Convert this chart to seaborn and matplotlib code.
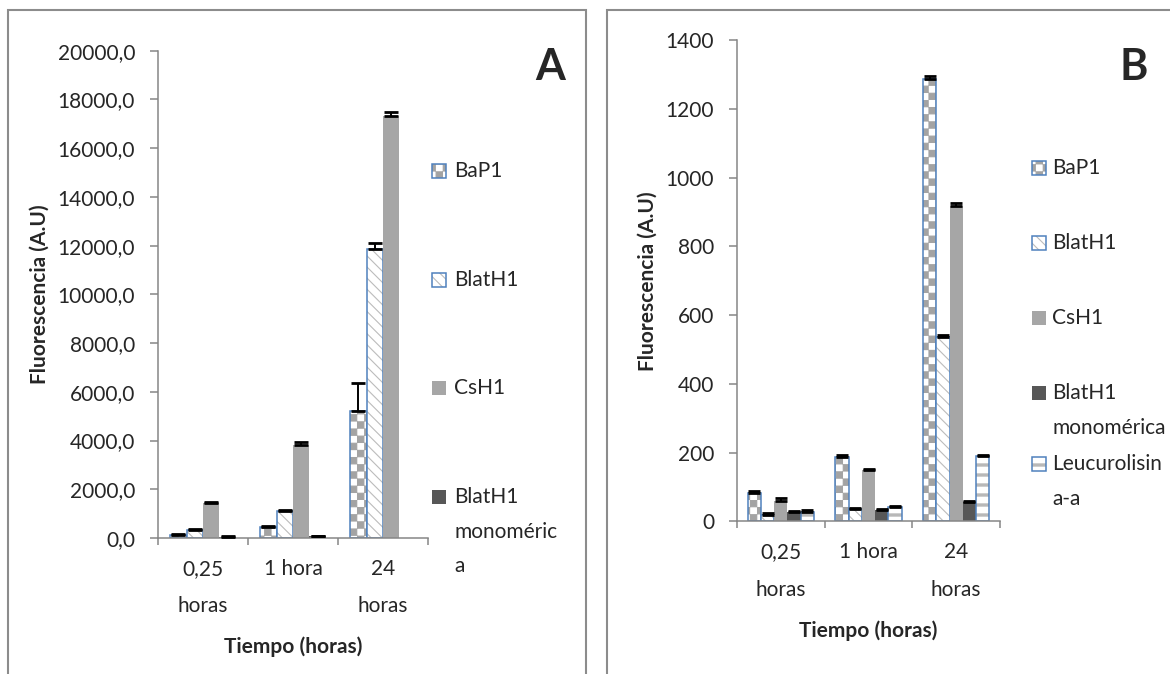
import numpy as np
import pandas as pd
import matplotlib
matplotlib.use("Agg")
import matplotlib.pyplot as plt
import matplotlib.colors as mcolors
import matplotlib.hatch as mhatch
from matplotlib.path import Path
from matplotlib.patches import Rectangle
from matplotlib.ticker import FuncFormatter
import seaborn as sns

# ---------------- data ----------------
times = ["0,25\nhoras", "1 hora", "24\nhoras"]

series_a = ["BaP1", "BlatH1", "CsH1", "BlatH1 monomérica"]
legend_a = ["BaP1", "BlatH1", "CsH1", "BlatH1\nmonoméric\na"]
bap1_a = [110, 450, 5200]
blath1_a = [310, 1090, 11850]
csh1_a = [1430, 3830, 17300]
mono_a = [40, 70, np.nan]
bap1_a_err = [40, 50, 1150]
blath1_a_err = [40, 40, 250]
csh1_a_err = [60, 100, 200]
mono_a_err = [30, 30, np.nan]

series_b = ["BaP1", "BlatH1", "CsH1", "BlatH1 monomérica", "Leucurolisina-a"]
legend_b = ["BaP1", "BlatH1", "CsH1", "BlatH1\nmonomérica", "Leucurolisin\na-a"]
bap1_b = [82, 188, 1288]
blath1_b = [18, 35, 537]
csh1_b = [58, 148, 918]
mono_b = [27, 32, 57]
leuco_b = [28, 41, 190]
bap1_b_err = [6, 6, 8]
blath1_b_err = [5, 3, 6]
csh1_b_err = [10, 3, 7]
mono_b_err = [2, 3, 3]
leuco_b_err = [4, 3, 3]

yticks_a = list(range(0, 20001, 2000))
yticks_b = list(range(0, 1401, 200))

# ---------------- style ----------------
sns.set_style("white")
plt.rcParams["font.family"] = ["Lato", "DejaVu Sans"]
plt.rcParams["hatch.linewidth"] = 0.8


# custom fill patterns (checkerboard and horizontal bands) for the hatches
class _Checker(mhatch.HatchPatternBase):
    def __init__(self, hatch, density):
        self.cells = 14 if "*" in hatch else 0
        self.num_vertices = (self.cells * self.cells // 2) * 5

    def set_vertices_and_codes(self, vertices, codes):
        n = self.cells
        s = 1.0 / n
        d = 0.004
        verts = []
        for i in range(n):
            for j in range(n):
                if (i + j) % 2 == 0:
                    x0, y0 = i * s + d, j * s + d
                    x1, y1 = (i + 1) * s - d, (j + 1) * s - d
                    verts += [(x0, y0), (x1, y0), (x1, y1), (x0, y1), (x0, y0)]
        vertices[:] = np.array(verts)
        codes[:] = np.tile([Path.MOVETO, Path.LINETO, Path.LINETO,
                            Path.LINETO, Path.CLOSEPOLY], len(verts) // 5)


class _Bands(mhatch.HatchPatternBase):
    def __init__(self, hatch, density):
        self.n = 10 if "." in hatch else 0
        self.num_vertices = self.n * 5

    def set_vertices_and_codes(self, vertices, codes):
        n = self.n
        s = 1.0 / n
        t = 0.022
        verts = []
        for k in range(n):
            y0 = k * s + (s - t) / 2
            y1 = y0 + t
            verts += [(0.0, y0), (1.0, y0), (1.0, y1), (0.0, y1), (0.0, y0)]
        vertices[:] = np.array(verts)
        codes[:] = np.tile([Path.MOVETO, Path.LINETO, Path.LINETO,
                            Path.LINETO, Path.CLOSEPOLY], n)


try:
    i1 = mhatch._hatch_types.index(mhatch.Stars)
    mhatch._hatch_types[i1] = _Checker
    i2 = mhatch._hatch_types.index(mhatch.SmallFilledCircles)
    mhatch._hatch_types[i2] = _Bands
    CHECK, BANDS = "*", "."
except Exception:
    CHECK, BANDS = "++", "--"

BLUE = "#4F81BD"
styles = {
    "BaP1": dict(face="white", hatch=CHECK, hc="#A3A3A3", edge=BLUE),
    "BlatH1": dict(face="white", hatch="\\\\\\", hc="#BCBCBC", edge=BLUE),
    "CsH1": dict(face="#A6A6A6", hatch=None, hc=None, edge="none"),
    "BlatH1 monomérica": dict(face="#575757", hatch=None, hc=None, edge="none"),
    "Leucurolisina-a": dict(face="white", hatch=BANDS, hc="#B8B8B8", edge=BLUE),
}


def set_hc(p, c):
    if hasattr(p, "set_hatchcolor"):
        p.set_hatchcolor(c)
    else:
        p._hatch_color = mcolors.to_rgba(c)


def style_patch(p, st):
    p.set_facecolor(st["face"])
    p.set_edgecolor(st["edge"])
    p.set_linewidth(1.1 if st["edge"] != "none" else 0)
    if st["hatch"]:
        p.set_hatch(st["hatch"])
        set_hc(p, st["hc"])


W, H = 1170, 674
fig = plt.figure(figsize=(W / 100, H / 100), dpi=100)


def fx(px):
    return px / W


def fy(py):
    return 1 - py / H


FS = 15
GRAY = "#868686"


def make_panel(rect, series, value_lists, err_lists, width, yticks, fmt, capsize):
    ax = fig.add_axes(rect)
    rows = []
    for s, vals in zip(series, value_lists):
        for t, v in zip(times, vals):
            rows.append((t, s, v))
    df = pd.DataFrame(rows, columns=["Tiempo", "Serie", "Valor"])
    sns.barplot(data=df, x="Tiempo", y="Valor", hue="Serie", order=times,
                hue_order=series, width=width, errorbar=None, legend=False,
                saturation=1, ax=ax)
    errs = dict(zip(series, err_lists))
    for s, cont in zip(series, ax.containers):
        xs, ys, es = [], [], []
        for p in cont:
            style_patch(p, styles[s])
            h = p.get_height()
            if np.isnan(h):
                continue
            xc = p.get_x() + p.get_width() / 2
            cat = int(round(xc))
            e = errs[s][cat]
            if np.isnan(e):
                continue
            xs.append(xc)
            ys.append(h)
            es.append(e)
        ax.errorbar(xs, ys, yerr=[np.zeros(len(es)), es], fmt="none",
                    ecolor="black", elinewidth=1.4, capsize=capsize,
                    capthick=2.0, zorder=5)
    ax.set_ylim(yticks[0], yticks[-1])
    ax.set_xlim(-0.5, 2.5)
    ax.set_yticks(yticks)
    ax.yaxis.set_major_formatter(FuncFormatter(fmt))
    ax.set_xticks([-0.5, 0.5, 1.5, 2.5], labels=[])
    ax.set_xticks([0, 1, 2], labels=times, minor=True)
    for sp in ["top", "right"]:
        ax.spines[sp].set_visible(False)
    for sp in ["left", "bottom"]:
        ax.spines[sp].set_color(GRAY)
        ax.spines[sp].set_linewidth(1.1)
    ax.tick_params(axis="y", which="major", direction="out", length=5.5,
                   width=1.1, color=GRAY, labelsize=FS, pad=11, left=True)
    ax.tick_params(axis="x", which="major", direction="out", length=5,
                   width=1.1, color=GRAY, bottom=True)
    ax.tick_params(axis="x", which="minor", length=0, labelsize=FS, pad=15)
    for lab in ax.get_xticklabels(minor=True):
        lab.set_linespacing(2.1)
    ax.set_xlabel("Tiempo (horas)", fontsize=FS, fontweight="bold")
    ax.set_ylabel("Fluorescencia (A.U)", fontsize=FS, fontweight="bold")
    ax.grid(False)
    return ax


axA = make_panel([fx(158), fy(538), fx(270), (538 - 50.7) / H], series_a,
                 [bap1_a, blath1_a, csh1_a, mono_a],
                 [bap1_a_err, blath1_a_err, csh1_a_err, mono_a_err],
                 0.73, yticks_a, lambda v, p: f"{v:.1f}".replace(".", ","), 5)
axB = make_panel([fx(737), fy(521.3), fx(263), (521.3 - 40.3) / H], series_b,
                 [bap1_b, blath1_b, csh1_b, mono_b, leuco_b],
                 [bap1_b_err, blath1_b_err, csh1_b_err, mono_b_err, leuco_b_err],
                 0.76, yticks_b, lambda v, p: f"{int(v)}", 4.3)

# axis label positions
axA.yaxis.set_label_coords((50 - 158) / 270, 0.5)
axB.yaxis.set_label_coords((658 - 737) / 263, 0.5)
axA.xaxis.set_label_coords(0.5, (538 - 636) / (538 - 50.7))
axB.xaxis.set_label_coords(0.5, (521.3 - 620) / (521.3 - 40.3))

# panel frames
fig.add_artist(Rectangle((fx(8), fy(690)), fx(586 - 8), (690 - 10) / H,
                         transform=fig.transFigure, fill=False,
                         edgecolor="#8C8C8C", linewidth=1.5))
fig.add_artist(Rectangle((fx(607), fy(690)), fx(1190 - 607), (690 - 10) / H,
                         transform=fig.transFigure, fill=False,
                         edgecolor="#8C8C8C", linewidth=1.5))

# panel letters
fig.text(fx(550), fy(67), "A", fontsize=31, fontweight="bold",
         ha="center", va="center")
fig.text(fx(1134), fy(67), "B", fontsize=31, fontweight="bold",
         ha="center", va="center")


# legends
def draw_legend(series, labels, centers, mx, tx, size=14):
    for s, lab, cy in zip(series, labels, centers):
        st = styles[s]
        r = Rectangle((fx(mx), fy(cy + size / 2)), fx(size), size / H,
                      transform=fig.transFigure)
        style_patch(r, st)
        fig.add_artist(r)
        fig.text(fx(tx), fy(cy - 9.6), lab, fontsize=FS, ha="left",
                 va="top", linespacing=1.9)


draw_legend(series_a, legend_a, [171, 280, 388, 497], 432, 454)
draw_legend(series_b, legend_b, [168, 243, 318, 393, 464], 1032, 1052)

fig.savefig("out.png", dpi=100)
